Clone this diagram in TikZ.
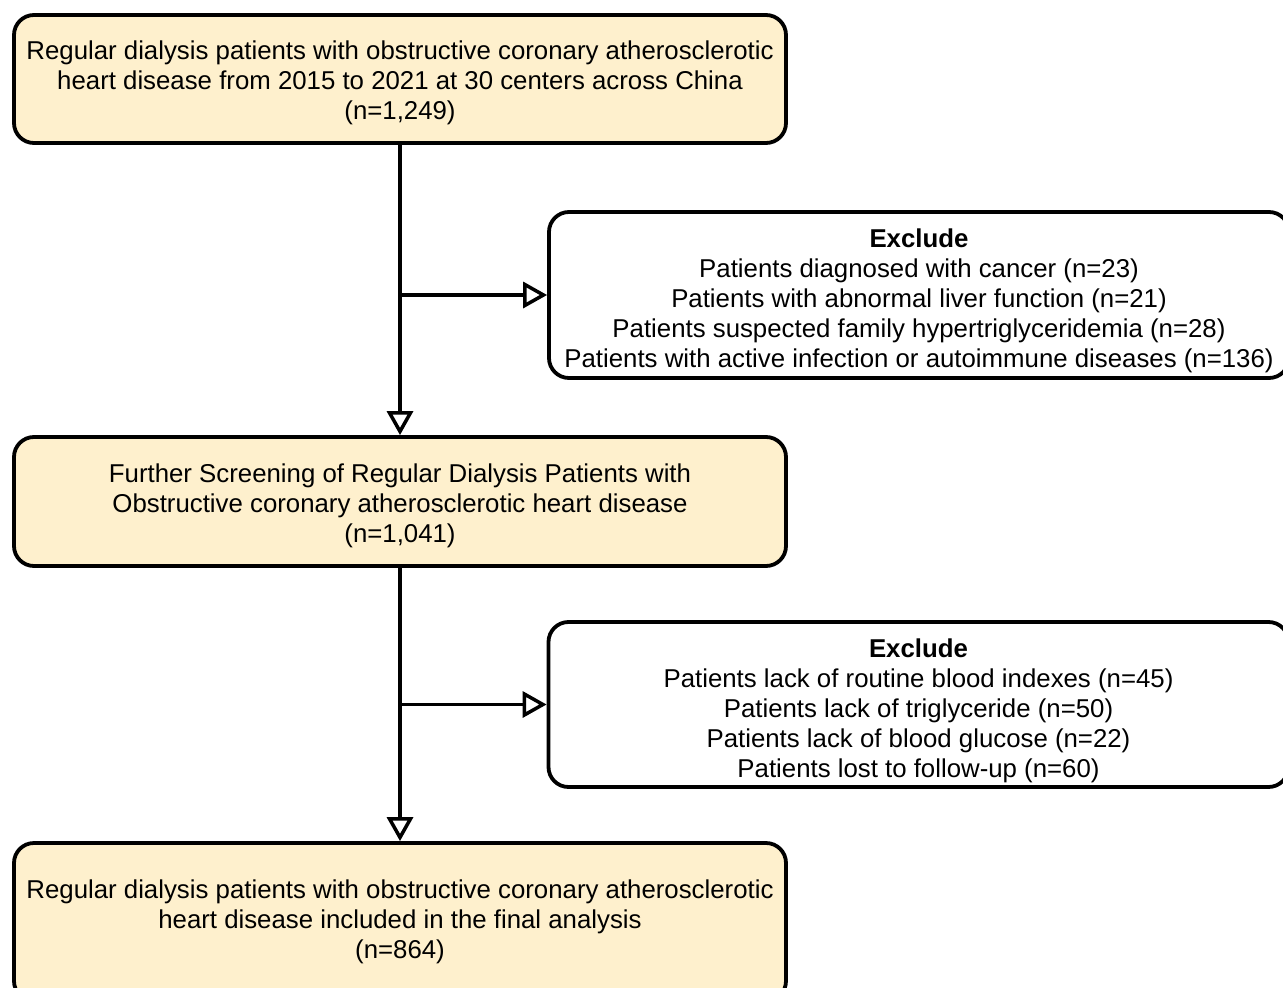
\documentclass[tikz,border=0pt]{standalone}
\usepackage{fontspec}
\setmainfont{Liberation Sans}
\usetikzlibrary{arrows.meta}
\definecolor{boxfill}{HTML}{FEF0CD}
\newcommand{\topstrut}[1]{\rule{0pt}{#1}}
\tikzset{
  every node/.style={font=\fontsize{25.8}{30}\selectfont},
  mainbox/.style={draw=black, line width=3.8pt, rounded corners=20pt, fill=boxfill, align=center, minimum width=772pt, inner sep=0pt},
  exbox/.style={draw=black, line width=3.8pt, rounded corners=20pt, fill=white, align=center, minimum width=740pt, inner sep=0pt},
  arr/.style={draw=black, line width=3.5pt, -{Triangle[open, length=24pt, width=26pt, line width=3.5pt]}}
}
\begin{document}
\begin{tikzpicture}[x=1pt, y=-1pt]
\useasboundingbox (0,0) rectangle (1283,988);
\node[mainbox, minimum height=128pt] (b1) at (400,79) {\topstrut{27pt}Regular dialysis patients with obstructive coronary atherosclerotic\\heart disease from 2015 to 2021 at 30 centers across China\\(n=1,249)};
\node[exbox, minimum height=166pt] (b2) at (919,295) {\topstrut{31pt}\textbf{Exclude}\\Patients diagnosed with cancer (n=23)\\Patients with abnormal liver function (n=21)\\Patients suspected family hypertriglyceridemia (n=28)\\Patients with active infection or autoimmune diseases (n=136)};
\node[mainbox, minimum height=129pt] (b3) at (400,501.5) {\topstrut{28pt}Further Screening of Regular Dialysis Patients with\\Obstructive coronary atherosclerotic heart disease\\(n=1,041)};
\node[exbox, minimum height=165pt] (b4) at (918.5,704.5) {\topstrut{31pt}\textbf{Exclude}\\Patients lack of routine blood indexes (n=45)\\Patients lack of triglyceride (n=50)\\Patients lack of blood glucose (n=22)\\Patients lost to follow-up (n=60)};
\node[mainbox, minimum height=158pt] (b5) at (400,922) {\topstrut{19pt}Regular dialysis patients with obstructive coronary atherosclerotic\\heart disease included in the final analysis\\(n=864)};
\coordinate (j1) at (b1.south |- b2.west);
\coordinate (j2) at (b3.south |- b4.west);
\draw[arr] (b1.south) -- (b3.north);
\draw[arr] (j1) -- (b2.west);
\draw[arr] (b3.south) -- (b5.north);
\draw[arr] (j2) -- (b4.west);
\end{tikzpicture}
\end{document}
